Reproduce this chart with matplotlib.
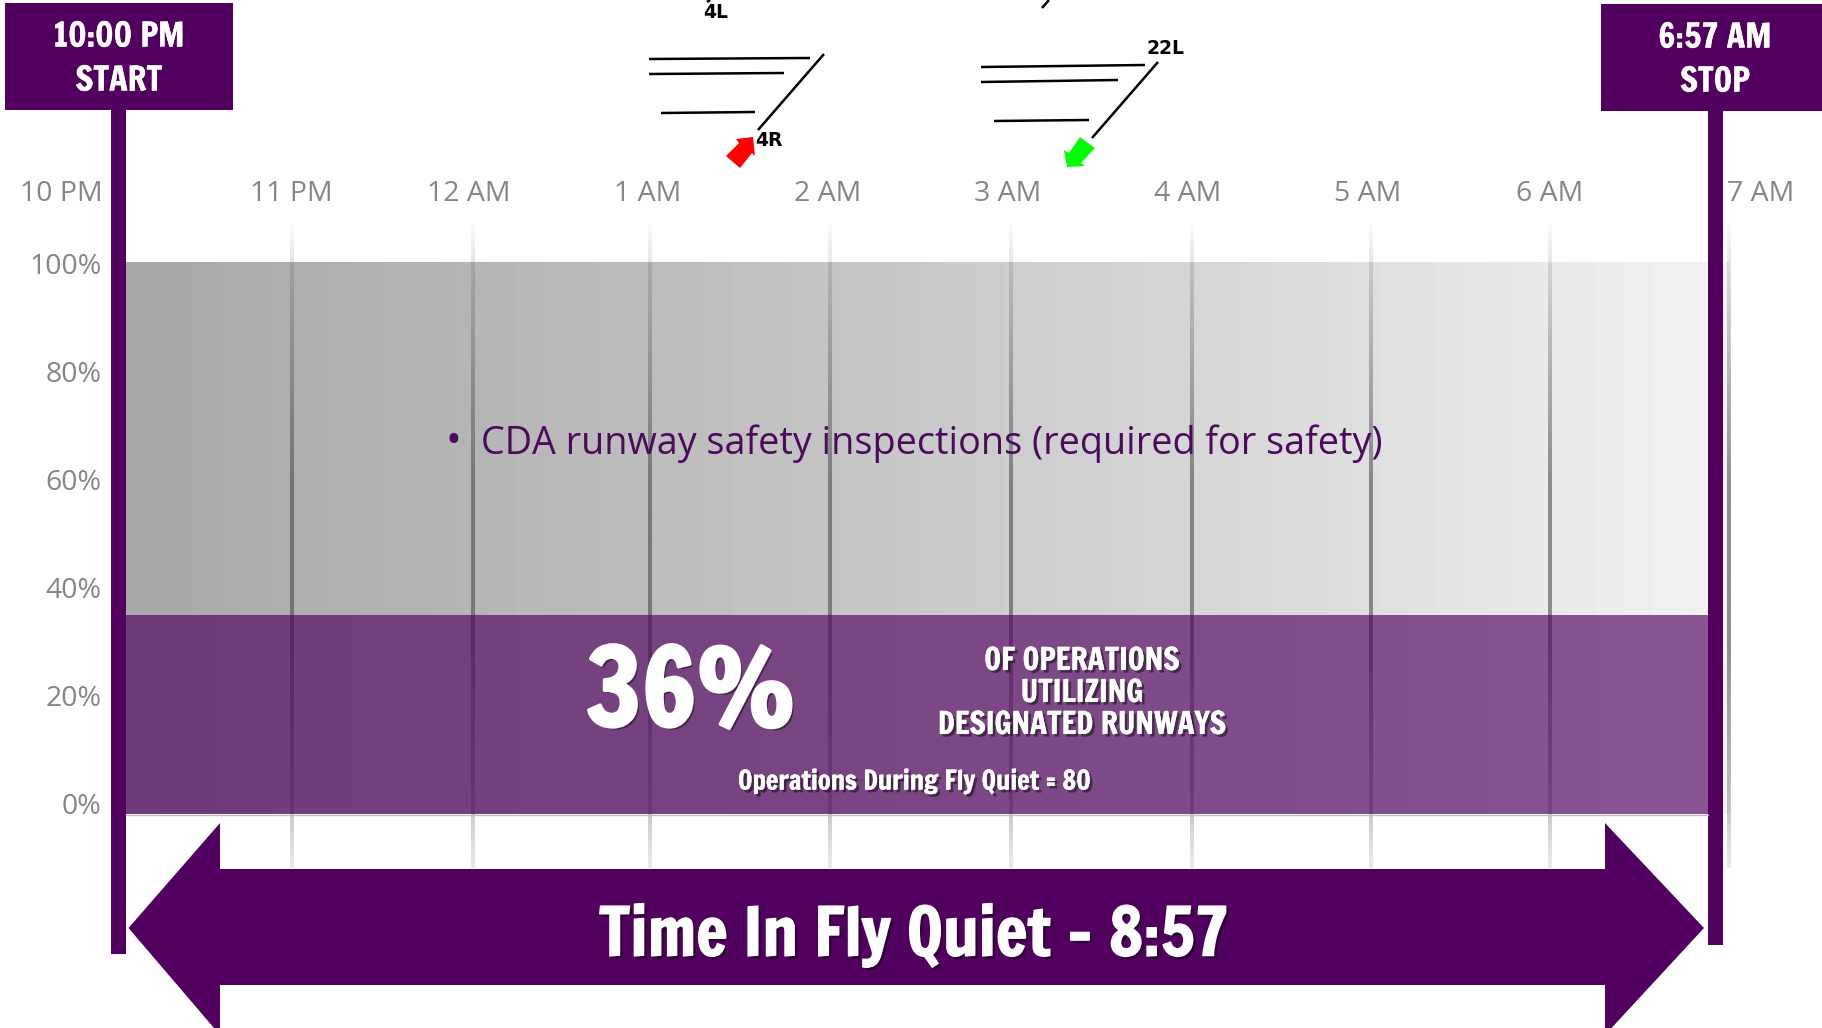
import matplotlib
matplotlib.use('Agg')
import matplotlib.pyplot as plt
import matplotlib.patheffects as pe
from matplotlib.colors import LinearSegmentedColormap
from matplotlib.patches import Polygon, Rectangle
from matplotlib.transforms import ScaledTranslation
import numpy as np

# chart data
hour_pos = [0, 1, 2, 3, 4, 5, 6, 7, 8, 9]
hour_labels = ['10 PM', '11 PM', '12 AM', '1 AM', '2 AM', '3 AM', '4 AM', '5 AM', '6 AM', '7 AM']
pct_ticks = [0, 20, 40, 60, 80, 100]
pct_labels = ['0%', '20%', '40%', '60%', '80%', '100%']
share_designated = 36
share_total = 100
fly_quiet_end = 8.88

W, H = 1822, 1028
PURPLE = '#51005F'
GREY_TXT = '#868686'
NARROW = ['Francois One', 'Liberation Sans', 'DejaVu Sans']
BODY = ['Open Sans', 'DejaVu Sans']

fig = plt.figure(figsize=(W / 100, H / 100), dpi=100, facecolor='white')


def rect(x0, y0, x1, y1):
    return [x0 / W, 1 - y1 / H, (x1 - x0) / W, (y1 - y0) / H]


# main chart, hours on x and percent on y
ax = fig.add_axes(rect(111.5, 262, 1729.25, 814))
for s in ax.spines.values():
    s.set_visible(False)

grey = LinearSegmentedColormap.from_list('g', ['#A8A8A8', '#BDBDBD', '#D6D6D6', '#F3F3F3'])
grad = np.linspace(0, 1, 60).reshape(1, -1)
ax.imshow(grad, cmap=grey, extent=[0, 9.01, 0, share_total], aspect='auto', zorder=1)
ax.barh(share_designated / 2, fly_quiet_end, height=share_designated, left=0,
        color=PURPLE, alpha=0.65, zorder=3)

# gridlines fade out at both ends, the purple band sits over them
y_stops = [108.3, 100, 60, 30, 0, -9.8]
a_stops = [0.0, 0.15, 0.6, 0.6, 0.3, 0.12]
ys = np.linspace(108.3, -9.8, 120)
line_img = np.zeros((120, 1, 4))
line_img[..., :3] = 0.3
line_img[:, 0, 3] = np.interp(ys, y_stops[::-1], a_stops[::-1])
grid_dx = [1, 1.5, -1, -1, 1, 2, 1, 0, 0]
for h, dx in zip(hour_pos[1:], grid_dx):
    c = h + dx / 179.75
    ax.imshow(line_img, extent=[c - 0.011, c + 0.011, -9.8, 108.3], aspect='auto',
              zorder=2, clip_on=False, interpolation='bilinear')

ax.set_xlim(0, 9)
ax.set_ylim(0, 100)
ax.set_yticks([])
ax.xaxis.tick_top()
ax.set_xticks(hour_pos)
ax.set_xticklabels(hour_labels, family=BODY, fontsize=20.5, color=GREY_TXT)
ax.tick_params(axis='x', length=0, pad=39)
label_shift = [-50, 0, -2, -3, -3, -3, -2, -2, 0, 31]
for lab, dx in zip(ax.get_xticklabels(), label_shift):
    lab.set_transform(lab.get_transform() + ScaledTranslation(dx / 100, 0, fig.dpi_scale_trans))

# percent labels sit on a slightly shorter scale than the bar
ax_pct = fig.add_axes(rect(111, 264, 112, 804))
ax_pct.patch.set_visible(False)
for s in ax_pct.spines.values():
    s.set_visible(False)
ax_pct.set_ylim(0, 100)
ax_pct.set_xticks([])
ax_pct.set_yticks(pct_ticks)
ax_pct.set_yticklabels(pct_labels, family=BODY, fontsize=20.5, color=GREY_TXT)
ax_pct.tick_params(axis='y', length=0, pad=7)

# overlay in pixel coords for the slide decoration
ov = fig.add_axes([0, 0, 1, 1], zorder=5)
ov.set_xlim(0, W)
ov.set_ylim(H, 0)
ov.axis('off')
ov.patch.set_visible(False)

ov.plot([126, 1708], [814.5, 814.5], color='#BDBDBD', lw=1)

ov.add_patch(Rectangle((111, 100), 15, 854, color=PURPLE, lw=0))
ov.add_patch(Rectangle((5, 3), 228, 107, color=PURPLE, lw=0))
ov.add_patch(Rectangle((1708, 100), 14.5, 845, color=PURPLE, lw=0))
ov.add_patch(Rectangle((1601, 4), 221, 107, color=PURPLE, lw=0))

ov.add_patch(Polygon([(128.5, 928), (220, 823), (220, 869), (1605, 869), (1605, 823), (1704, 928),
                      (1605, 1035), (1605, 985), (220, 985), (220, 1035)],
                     closed=True, color=PURPLE, lw=0))


def bold(x, y, s, size, shadow=True, heavy=0.3):
    t = ov.text(x, y, s, family=NARROW, fontsize=size, color='white',
                ha='center', va='center_baseline')
    fx = []
    if shadow:
        fx.append(pe.SimplePatchShadow(offset=(2, -2), alpha=0.45, shadow_rgbFace='black'))
    fx.append(pe.withStroke(linewidth=heavy, foreground='white'))
    t.set_path_effects(fx)
    return t


bold(119, 34, '10:00 PM', 24, False)
bold(119, 78, 'START', 24, False)
bold(1715, 35, '6:57 AM', 24, False)
bold(1715, 79, 'STOP', 24, False)

bold(691, 686, '36%', 76, heavy=2.5)
bold(1082, 658, 'OF OPERATIONS', 22)
bold(1082, 690, 'UTILIZING', 22)
bold(1082, 722, 'DESIGNATED RUNWAYS', 22)
bold(915, 779, 'Operations During Fly Quiet = 80', 19)
bold(914, 929, 'Time In Fly Quiet \u2013 8:57', 47.5, heavy=1)

ov.text(453, 442, '\u2022', family=BODY, fontsize=30, color='#4B0A5C', ha='center', va='center')
ov.text(481, 444, 'CDA runway safety inspections (required for safety)', family=BODY, fontsize=27.2,
        color='#4B0A5C', ha='left', va='center')

# runway diagrams
runway_segs = [
    [(649, 59), (810, 58)], [(649, 74), (784, 73)], [(661, 113), (755, 112)], [(758, 130), (824, 54)],
    [(981, 67), (1145, 65)], [(981, 82), (1118, 80)], [(994, 121), (1089, 120)], [(1092, 138), (1158, 62)],
    [(1042, 8), (1049, 0)], [(707, 2), (710, 0)],
]
for seg in runway_segs:
    ov.plot([seg[0][0], seg[1][0]], [seg[0][1], seg[1][1]], color='black', lw=1.8, solid_capstyle='butt')

for x, y, s in [(716, 13, '4L'), (769, 140, '4R'), (1165, 48, '22L')]:
    ov.text(x, y, s, family='DejaVu Sans', fontweight='bold', fontsize=13.5, color='black',
            ha='center', va='center')

ov.add_patch(Polygon([(753, 137), (736, 139), (739, 143), (726, 156), (740, 168), (752, 153), (755, 156)],
                     closed=True, color='#FF0000', lw=0))
ov.add_patch(Polygon([(1067, 167), (1064, 150), (1069, 153), (1080, 137), (1095, 148), (1081, 163), (1085, 166)],
                     closed=True, color='#00FF00', lw=0))

fig.savefig('out.png', dpi=100, facecolor='white')
